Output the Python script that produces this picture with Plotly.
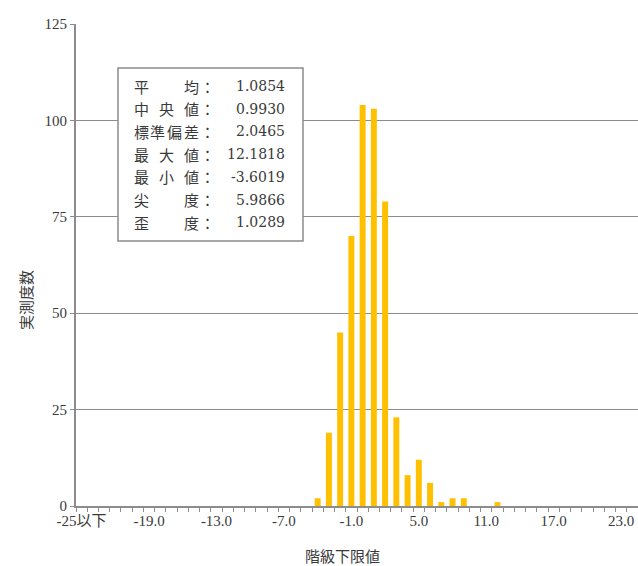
import plotly.graph_objects as go

# ---- data ----
categories = ["-25以下"] + [f"{v:.1f}" for v in range(-24, 25)]
counts_by_class = {-4: 2, -3: 19, -2: 45, -1: 70, 0: 104, 1: 103, 2: 79, 3: 23,
                   4: 8, 5: 12, 6: 6, 7: 1, 8: 2, 9: 2, 12: 1}
counts = [0] + [counts_by_class.get(v, 0) for v in range(-24, 25)]
tick_every = 6
y_ticks = [0, 25, 50, 75, 100, 125]

stat_labels = ["平均", "中央値", "標準偏差", "最大値", "最小値", "尖度", "歪度"]
stat_values = ["1.0854", "0.9930", "2.0465", "12.1818", "-3.6019", "5.9866", "1.0289"]

x_title = "階級下限値"
y_title = "実測度数"

# ---- figure ----
W, H = 638, 566
L, R, T, B = 76, 0, 24, 60
PW, PH = W - L - R, H - T - B

def px2x(px):
    return (px - L) / PW

def py2y(py):
    return (H - B - py) / PH

serif = "Liberation Serif, Noto Sans CJK JP"
cjk = "Noto Sans CJK JP"
txt = "#3a3a3a"
grey = "#8c8c8c"

fig = go.Figure()
fig.add_trace(go.Bar(x=categories, y=counts, marker=dict(color="#FFC000", line=dict(width=0)),
                     hoverinfo="x+y"))

ticktext = [c if i % tick_every == 0 else "" for i, c in enumerate(categories)]

fig.update_layout(
    width=W, height=H,
    margin=dict(l=L, r=R, t=T, b=B, autoexpand=False),
    paper_bgcolor="white", plot_bgcolor="white",
    showlegend=False, bargap=0.47,
    font=dict(family=serif, size=15, color=txt),
    xaxis=dict(type="category", tickmode="array", tickvals=categories, ticktext=ticktext,
               tickson="boundaries", ticks="outside", ticklen=4, tickcolor=grey, tickwidth=1,
               showline=True, linecolor=grey, linewidth=2, showgrid=False, automargin=False,
               range=[-0.5, len(categories) - 0.5], tickangle=0,
               tickfont=dict(family=serif, size=15, color=txt)),
    yaxis=dict(range=[0, 125], tickmode="array", tickvals=y_ticks, automargin=False,
               ticks="outside", ticklen=4, tickcolor=grey,
               showline=True, linecolor=grey, linewidth=2,
               showgrid=True, gridcolor=grey, gridwidth=1, zeroline=False,
               tickfont=dict(family=serif, size=15, color=txt)),
)

# axis titles
fig.add_annotation(text=x_title, xref="paper", yref="paper", x=px2x(342), y=py2y(555),
                   showarrow=False, font=dict(family=cjk, size=15, color=txt),
                   xanchor="center", yanchor="middle")
fig.add_annotation(text=y_title, xref="paper", yref="paper", x=px2x(25), y=py2y(300),
                   showarrow=False, textangle=-90, font=dict(family=cjk, size=15, color=txt),
                   xanchor="center", yanchor="middle")

# stats box
fig.add_shape(type="rect", xref="paper", yref="paper",
              x0=px2x(118), x1=px2x(303), y0=py2y(68), y1=py2y(241),
              fillcolor="white", line=dict(color=grey, width=1.5), layer="above")

slot = 16.7
left0 = 132.7
for i, (lab, val) in enumerate(zip(stat_labels, stat_values)):
    yc = 86 + i * 22.7
    n = len(lab)
    for k, ch in enumerate(lab):
        pos = 3 * k / (n - 1) if n > 1 else 0
        fig.add_annotation(text=ch, xref="paper", yref="paper",
                           x=px2x(left0 + pos * slot + slot / 2), y=py2y(yc),
                           showarrow=False, font=dict(family=cjk, size=15, color=txt),
                           xanchor="center", yanchor="middle")
    fig.add_annotation(text="：", xref="paper", yref="paper",
                       x=px2x(left0 + 4 * slot + slot / 2), y=py2y(yc),
                       showarrow=False, font=dict(family=cjk, size=15, color=txt),
                       xanchor="center", yanchor="middle")
    fig.add_annotation(text=val, xref="paper", yref="paper",
                       x=px2x(287), y=py2y(yc),
                       showarrow=False, font=dict(family="DejaVu Serif", size=14, color=txt),
                       xanchor="right", yanchor="middle")

fig.write_html("out.html", config={"displayModeBar": False})

# remove the default page margin so the figure sits at the window's top-left corner
with open("out.html", encoding="utf-8") as f:
    html = f.read()
html = html.replace("<head>", "<head><style>html,body{margin:0;padding:0;overflow:hidden;}</style>", 1)
with open("out.html", "w", encoding="utf-8") as f:
    f.write(html)
